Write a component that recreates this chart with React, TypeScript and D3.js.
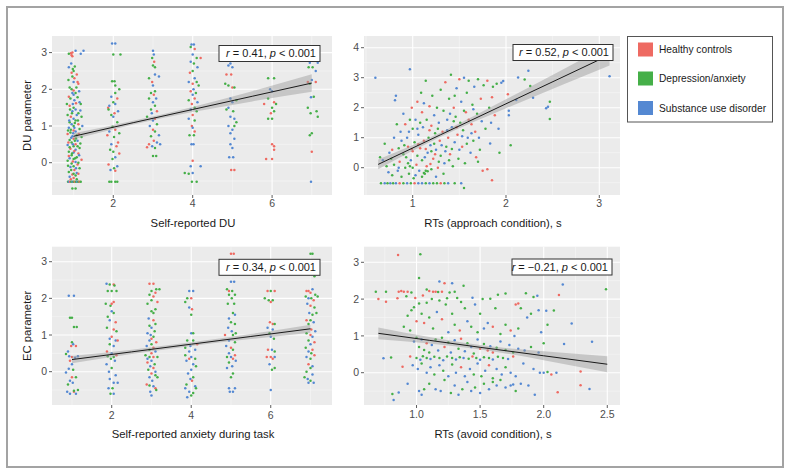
import React from "react";
import * as d3 from "d3";

// ---------- DATA ----------
// group: 0 = Healthy controls, 1 = Depression/anxiety, 2 = Substance use disorder
const groups = ["Healthy controls", "Depression/anxiety", "Substance use disorder"];
const groupColors = ["#EE6A62", "#45AF48", "#5488D2"];

type P = [number, number, number];

const duSelfReport: P[] = [
  [0.93,2.98,0],[0.97,3.0,0],[0.95,2.93,0],[0.97,2.9,0],[1.05,3.05,2],[1.25,3.05,2],[0.88,2.97,1],[1.18,2.97,2],
  [0.88,2.6,2],[0.98,2.55,1],[1.0,2.5,1],[0.95,2.45,0],[1.02,2.3,0],[0.97,2.35,1],[1.0,2.2,2],[1.1,2.2,0],
  [1.12,2.15,0],[0.9,2.05,1],[0.95,2.0,1],[1.0,1.97,0],[1.05,1.9,1],[1.0,1.85,2],[0.88,1.8,0],[0.92,1.75,1],
  [1.1,1.78,1],[1.02,1.7,2],[1.15,1.65,2],[1.18,1.6,1],[0.9,1.55,0],[1.0,1.5,1],[1.05,1.45,2],[0.97,1.4,2],
  [1.12,1.35,1],[0.85,1.3,1],[1.08,1.3,2],[0.93,1.25,0],[1.2,1.25,1],[1.0,1.2,2],[1.05,1.15,1],[0.9,1.1,1],
  [0.95,1.05,2],[1.12,1.05,0],[1.0,1.0,1],[0.88,0.95,2],[1.15,0.92,1],[1.0,0.88,0],[1.05,0.85,2],[0.92,0.82,1],
  [0.85,0.78,0],[1.08,0.75,1],[0.97,0.72,2],[1.2,0.7,1],[1.0,0.65,0],[0.9,0.62,1],[1.1,0.6,2],[0.95,0.55,1],
  [1.05,0.5,0],[0.85,0.48,2],[1.0,0.45,1],[1.15,0.4,1],[0.92,0.38,0],[1.05,0.35,2],[0.88,0.3,1],[1.0,0.28,2],
  [1.12,0.25,0],[0.95,0.2,1],[1.08,0.15,1],[0.9,0.12,2],[1.0,0.1,1],[1.2,0.08,0],[0.85,0.05,1],[1.05,0.02,2],
  [0.95,-0.02,1],[1.1,-0.05,0],[1.0,-0.1,1],[0.92,-0.12,2],[1.15,-0.15,1],[1.02,-0.2,0],[0.88,-0.25,1],[1.08,-0.28,2],
  [0.97,-0.32,0],[1.05,-0.35,1],[0.9,-0.38,2],[1.0,-0.42,0],[0.93,0.9,1],[1.03,0.6,1],[0.98,1.6,2],[1.07,2.05,1],
  [0.94,2.7,2],[1.03,2.62,1],[0.87,2.25,1],[1.08,2.4,0],[1.14,1.95,2],[0.83,1.6,1],[1.06,1.62,0],[0.96,1.35,1],
  [1.17,1.42,2],[0.89,1.15,2],[1.03,1.08,1],[1.22,1.0,2],[0.86,0.88,1],[0.99,0.8,2],[1.13,0.78,0],[0.94,0.68,2],
  [1.06,0.66,1],[0.87,0.55,0],[1.17,0.52,1],[0.98,0.5,2],[1.1,0.45,1],[0.9,0.42,1],[1.02,0.32,0],[0.96,0.25,1],
  [1.14,0.2,2],[0.88,0.18,0],[1.04,0.12,1],[0.98,0.03,0],[1.12,0.0,1],[0.86,-0.08,1],[1.06,-0.15,2],[0.94,-0.2,1],
  [1.12,-0.3,0],[1.0,-0.3,1],[0.93,-0.45,0],[1.08,-0.45,1],[1.02,0.95,2],[0.91,1.45,1],[1.11,1.15,1],[0.97,1.9,2],
  [0.86,-0.52,1],[0.88,-0.52,2],[0.91,-0.52,0],[0.94,-0.52,1],[0.97,-0.52,2],[1.0,-0.52,1],[1.03,-0.52,0],
  [1.06,-0.52,1],[1.09,-0.52,2],[1.12,-0.52,1],[1.15,-0.52,0],[1.18,-0.52,1],[0.97,-0.7,1],[1.05,-0.7,1],
  [1.97,3.25,2],[2.05,3.25,2],[2.0,2.95,1],[2.18,2.95,1],[1.97,2.22,1],[2.03,2.22,1],[2.05,2.1,1],[2.15,2.0,1],
  [1.87,1.5,0],[1.9,1.55,2],[1.95,1.8,2],[2.05,1.9,1],[2.1,1.75,0],[2.0,1.65,1],[2.05,1.6,2],[1.88,1.45,1],
  [2.12,1.4,2],[2.03,1.35,0],[1.95,1.3,1],[2.0,1.25,2],[2.1,1.1,1],[1.98,0.98,1],[2.05,0.9,0],[1.9,0.85,2],
  [2.15,0.8,1],[1.85,0.75,0],[2.02,0.7,1],[2.12,0.55,0],[1.95,0.5,2],[2.08,0.45,0],[1.92,0.35,1],[2.0,0.3,1],
  [2.15,0.25,0],[2.05,0.15,2],[1.98,0.1,1],[1.88,-0.05,0],[2.1,-0.1,2],[2.02,-0.15,1],[1.93,-0.2,2],[2.05,-0.22,0],
  [1.9,-0.52,1],[1.95,-0.52,1],[2.05,-0.52,1],[2.1,-0.52,1],
  [3.0,3.05,2],[3.02,2.95,2],[2.98,2.85,1],[3.03,2.75,0],[3.0,2.65,1],[3.05,2.6,1],[2.9,2.3,1],[3.05,2.4,2],
  [3.15,2.35,2],[2.98,2.2,0],[3.0,2.1,2],[3.05,1.95,1],[2.95,1.9,1],[3.02,1.85,0],[3.08,1.75,2],[2.9,1.75,1],
  [3.0,1.65,2],[3.05,1.55,1],[2.95,1.45,1],[3.1,1.4,0],[2.97,1.35,2],[2.85,1.25,1],[3.05,1.2,0],[3.0,1.15,2],
  [3.1,1.05,1],[2.92,1.0,2],[3.0,0.9,0],[3.05,0.85,1],[3.15,0.75,2],[2.95,0.72,1],[3.02,0.6,0],[3.1,0.55,2],
  [2.9,0.5,0],[2.98,0.45,2],[3.05,0.4,1],[2.85,0.42,0],[3.0,0.18,1],[3.08,0.18,1],[3.18,0.5,2],
  [3.97,3.22,2],[4.03,3.22,2],[3.95,3.15,1],[4.05,3.1,0],[4.0,2.95,2],[4.1,2.85,1],[4.2,2.85,0],[3.95,2.75,2],
  [4.03,2.7,1],[4.12,2.6,2],[4.0,2.5,1],[3.93,2.45,0],[4.05,2.3,2],[4.1,2.2,1],[3.9,2.2,2],[4.0,2.15,0],
  [4.15,2.1,1],[4.02,2.0,2],[3.95,1.95,0],[4.08,1.9,1],[4.0,1.85,2],[4.05,1.75,0],[3.9,1.7,1],[4.12,1.65,2],
  [3.98,1.6,0],[4.05,1.5,1],[3.95,1.45,2],[4.1,1.4,1],[4.0,1.3,0],[3.9,1.2,2],[4.05,1.15,1],[3.98,1.0,0],
  [4.0,0.95,2],[4.05,0.85,0],[3.92,0.75,1],[4.03,0.75,1],[3.97,0.5,2],[4.02,0.5,2],[4.0,0.05,0],[3.95,-0.1,2],
  [4.2,-0.1,2],[3.8,-0.28,1],[3.9,-0.3,1],[4.0,-0.28,2],[3.98,-0.52,1],[4.1,-0.52,1],
  [4.9,2.65,2],[4.95,2.7,2],[5.0,2.6,2],[4.85,2.4,0],[4.97,2.4,0],[4.82,2.15,1],[4.9,2.1,1],[5.0,2.05,0],
  [5.05,2.05,1],[4.95,1.75,2],[5.1,1.7,1],[5.0,1.65,2],[4.9,1.5,2],[4.85,1.45,1],[5.02,1.4,1],[4.95,1.25,2],
  [5.05,1.2,2],[5.1,1.1,1],[4.9,1.0,2],[5.05,1.0,1],[5.0,0.9,2],[4.95,0.8,2],[5.05,0.65,2],[4.95,0.5,2],
  [5.0,0.4,2],[4.92,0.15,2],[5.02,0.15,2],[4.97,-0.2,0],[5.05,-0.2,0],
  [5.9,2.3,1],[6.05,2.3,1],[5.95,2.0,2],[6.0,1.95,2],[5.8,1.6,0],[5.9,1.75,1],[6.05,1.65,0],[6.1,1.6,1],
  [6.0,1.5,1],[5.97,1.35,0],[6.05,1.4,1],[5.9,1.2,1],[6.0,1.2,1],[6.0,0.5,0],[6.05,0.45,0],[6.05,0.35,0],
  [5.85,0.1,0],[6.0,0.1,0],
  [6.95,2.72,2],[7.15,2.72,2],[6.92,2.6,1],[7.02,2.6,1],[7.1,2.5,2],[6.9,2.2,0],[7.0,2.25,2],[7.1,2.2,0],
  [6.95,2.15,1],[7.05,1.8,1],[6.98,1.78,2],[6.9,1.5,1],[7.12,1.4,1],[6.97,1.35,1],[7.15,1.25,1],[7.0,0.8,1],
  [6.95,0.75,1],[7.0,0.3,0],[6.98,-0.52,2]
];

const duApproachRT: P[] = [
  [0.66,-0.52,1],[0.7,-0.52,2],[0.73,-0.52,1],[0.76,-0.52,2],[0.79,-0.52,1],[0.82,-0.52,2],[0.86,-0.52,0],
  [0.9,-0.52,1],[0.94,-0.52,2],[0.98,-0.52,1],[1.02,-0.52,0],[1.06,-0.52,2],[1.1,-0.52,2],[1.14,-0.52,1],
  [1.18,-0.52,2],[1.22,-0.52,1],[1.26,-0.52,1],[1.3,-0.52,0],[1.34,-0.52,1],[1.38,-0.52,2],[1.45,-0.52,1],
  [1.52,-0.52,2],[1.55,-0.68,1],[1.85,-0.42,0],[1.8,-0.05,0],[1.93,0.5,1],[2.05,0.75,1],[1.83,0.81,2],
  [0.6,3.0,2],[0.97,3.28,2],[2.24,3.23,2],[2.13,3.01,2],[2.2,2.94,1],[1.97,2.89,2],[1.95,2.83,2],[2.29,2.33,2],
  [2.11,2.26,2],[2.26,2.72,1],[2.47,2.2,1],[2.45,2.03,2],[2.43,1.98,2],[2.47,1.62,1],[2.03,1.9,2],[2.03,1.75,2],
  [3.11,3.05,2],[2.02,2.45,0],[1.85,2.35,0],
  [0.65,0.35,1],[0.68,0.25,2],[0.7,0.8,1],[0.72,0.05,1],[0.74,-0.15,2],[0.75,0.5,2],[0.77,0.3,1],[0.78,-0.25,1],
  [0.8,1.0,2],[0.8,0.1,1],[0.82,2.4,2],[0.81,2.25,2],[0.83,1.45,1],[0.84,-0.1,2],[0.85,0.65,1],[0.86,0.2,0],
  [0.87,1.2,2],[0.88,-0.3,1],[0.9,1.8,2],[0.9,0.45,1],[0.92,1.45,0],[0.92,0.0,1],[0.94,1.0,2],[0.95,0.7,0],
  [0.96,-0.2,1],[0.97,1.6,1],[0.98,0.25,2],[0.99,2.0,0],[1.0,1.3,1],[1.0,0.55,0],[1.01,-0.35,1],
  [1.02,0.85,1],[1.03,1.6,2],[1.04,0.1,0],[1.05,2.2,0],[1.05,0.4,1],[1.06,1.1,2],[1.07,-0.1,2],[1.08,0.65,0],
  [1.09,2.5,1],[1.1,1.85,0],[1.1,0.25,1],[1.11,1.35,2],[1.12,2.15,2],[1.12,0.9,0],[1.13,-0.2,1],[1.14,2.9,1],
  [1.15,1.6,1],[1.15,0.05,0],[1.16,0.5,2],[1.17,1.0,1],[1.18,2.05,0],[1.19,0.75,2],[1.2,1.4,0],[1.2,-0.05,1],
  [1.21,2.4,1],[1.22,0.3,0],[1.23,1.75,2],[1.24,1.15,1],[1.25,0.6,2],[1.26,2.0,1],[1.27,0.0,0],[1.28,1.5,2],
  [1.29,0.9,0],[1.3,2.6,1],[1.3,0.4,1],
  [1.32,1.2,0],[1.33,1.9,1],[1.34,0.15,2],[1.35,2.85,0],[1.36,0.7,1],[1.37,1.6,2],[1.38,1.0,0],[1.39,2.3,1],
  [1.4,0.45,0],[1.41,3.1,1],[1.42,1.35,2],[1.43,0.05,1],[1.44,2.0,0],[1.45,0.85,2],[1.46,1.7,1],[1.47,2.65,2],
  [1.48,1.1,0],[1.49,0.3,1],[1.5,2.95,0],[1.51,1.5,1],[1.52,2.2,2],[1.53,0.7,0],[1.54,1.25,1],[1.55,3.0,2],
  [1.56,0.15,1],[1.57,1.85,0],[1.58,2.5,1],[1.59,1.0,2],[1.6,2.9,1],
  [1.62,0.5,2],[1.63,1.45,0],[1.64,2.1,1],[1.65,0.9,1],[1.66,2.7,2],[1.67,1.2,0],[1.68,0.35,0],[1.69,1.8,1],
  [1.7,2.95,1],[1.71,1.0,2],[1.72,0.6,1],[1.73,2.3,0],[1.74,1.55,2],[1.75,-0.1,0],[1.76,2.75,1],[1.78,1.3,1],
  [1.8,2.9,0],[1.82,2.0,1],[1.84,1.5,2],[1.86,2.7,1],[1.88,1.75,0],[1.9,2.8,1],[1.92,1.3,2],
  [0.78,0.6,0],[0.88,0.9,2],[0.93,0.35,1],[0.96,1.2,2],[1.0,0.0,1],[1.03,-0.25,2],[1.08,1.5,1],[1.13,0.35,2],
  [1.18,1.25,0],[1.23,0.8,1],[1.28,0.2,1],[1.35,0.55,2],[1.4,1.8,2],[1.45,2.4,1],[1.5,0.6,2],[1.55,1.9,1],
  [1.6,1.6,0],[1.65,1.95,2],[1.7,0.2,1],[0.85,0.0,2],[0.97,0.05,1],[1.1,-0.3,1],[1.2,0.55,1],[1.33,-0.2,1],
  [1.25,-0.3,2],[1.14,-0.1,1],[1.16,-0.12,1],[1.12,-0.18,1],
  [0.99,0.62,0],[1.06,0.78,0],[1.14,0.62,0],[1.19,0.12,0],[1.24,0.45,0],[1.31,0.75,2],[1.37,1.25,2],[1.42,0.62,1],
  [1.47,1.35,0],[1.53,1.05,2],[1.58,0.8,1],[1.63,1.15,2],[1.05,1.3,2],[0.91,0.75,1],[0.95,0.15,1],[1.27,1.3,1],
  [1.39,0.25,1],[1.44,1.55,1]
];

const ecAnxiety: P[] = [
  [0.92,2.07,2],[1.05,2.07,2],[0.95,1.47,1],[1.0,1.47,1],[1.05,1.22,1],[1.12,1.22,1],[1.0,0.8,1],[1.03,0.75,2],
  [0.98,0.7,0],[1.1,0.7,0],[0.9,0.55,2],[0.85,0.48,1],[0.93,0.42,2],[1.0,0.4,0],[1.08,0.38,2],[1.15,0.42,2],
  [0.95,0.3,0],[1.0,0.2,2],[0.92,0.08,2],[1.03,0.05,1],[0.85,-0.02,2],[1.0,-0.15,0],[1.1,-0.15,1],[0.95,-0.25,2],
  [1.02,-0.3,2],[0.9,-0.35,1],[1.15,-0.5,1],[0.88,-0.55,2],[0.95,-0.6,2],[1.05,-0.55,0],[1.1,-0.6,2],[1.05,-0.52,1],
  [1.87,2.4,2],[1.95,2.38,1],[2.05,2.38,0],[2.07,2.35,1],[1.9,2.2,1],[2.0,2.2,1],[2.12,2.2,1],[1.85,1.85,1],
  [2.05,1.9,0],[1.97,1.8,1],[2.0,1.85,0],[1.9,1.5,1],[2.05,1.6,1],[2.0,1.65,2],[1.95,1.4,2],[2.1,1.35,0],
  [1.88,1.2,1],[2.05,1.15,0],[2.12,1.1,1],[2.0,0.95,0],[1.95,0.9,2],[2.1,0.85,2],[2.15,0.85,0],[1.95,0.75,1],
  [2.05,0.7,2],[1.88,0.55,0],[2.0,0.5,2],[1.9,0.42,1],[2.05,0.4,1],[2.12,0.45,0],[1.98,0.35,1],[2.08,0.3,2],
  [1.87,0.2,2],[2.0,0.1,1],[1.93,0.0,2],[2.1,-0.1,2],[1.95,-0.2,2],[2.05,-0.3,2],[2.15,-0.3,2],[1.92,-0.45,2],
  [2.02,-0.45,1],[1.97,-0.6,1],[2.05,-0.6,2],
  [2.95,2.4,0],[3.05,2.4,0],[3.12,2.25,1],[3.2,2.25,1],[3.0,2.2,1],[3.1,2.15,0],[2.95,2.1,1],[3.05,2.05,0],
  [3.0,1.95,1],[3.15,1.9,0],[2.9,1.85,1],[3.0,1.65,1],[3.05,1.6,1],[2.93,1.45,2],[3.05,1.4,0],[3.1,1.3,1],
  [2.95,1.25,1],[3.0,1.2,2],[3.08,1.1,1],[2.9,1.05,2],[3.05,0.95,1],[3.0,0.9,0],[2.95,0.85,2],[3.12,0.8,0],
  [3.0,0.75,1],[2.88,0.7,2],[3.05,0.65,0],[2.95,0.6,1],[3.1,0.55,2],[3.0,0.5,0],[2.85,0.45,1],[2.95,0.4,1],
  [3.05,0.4,0],[3.15,0.4,1],[3.0,0.3,2],[2.9,0.25,0],[3.08,0.2,1],[2.97,0.15,2],[3.05,0.1,0],[2.92,0.05,1],
  [3.1,0.0,2],[3.0,-0.05,0],[2.95,-0.15,2],[3.1,-0.1,1],[3.15,-0.15,1],[3.02,-0.25,2],[2.88,-0.35,0],[2.95,-0.38,1],
  [3.05,-0.4,2],[3.1,-0.45,0],[2.97,-0.55,2],[3.0,-0.65,2],[3.12,-0.5,1],[2.9,0.35,2],[3.1,1.7,1],[2.98,1.0,2],
  [3.85,1.9,1],[3.9,2.0,1],[4.0,2.0,0],[4.05,2.2,2],[3.95,2.2,2],[3.95,1.75,2],[4.02,1.7,0],[4.0,1.55,1],
  [4.0,1.05,2],[4.05,1.05,1],[3.9,0.85,1],[4.05,0.85,1],[4.15,0.75,0],[3.85,0.65,1],[3.98,0.7,2],[4.1,0.6,2],
  [3.95,0.55,2],[3.85,0.45,1],[4.0,0.4,2],[4.1,0.35,1],[3.95,0.35,0],[3.88,0.3,2],[4.05,0.2,2],[4.12,0.15,1],
  [4.0,0.05,2],[3.92,-0.05,2],[4.05,-0.15,1],[3.98,-0.2,2],[4.02,-0.25,0],[3.88,-0.35,1],[4.1,-0.4,2],[3.85,-0.45,2],
  [4.12,-0.45,1],[3.95,-0.55,2],[4.05,-0.58,1],[3.9,-0.7,2],[4.0,-0.65,1],
  [5.0,3.22,0],[5.07,3.22,0],[5.0,2.45,2],[5.08,2.45,2],[4.9,2.25,1],[4.95,2.2,0],[5.03,2.2,1],[5.1,2.1,1],
  [4.95,2.1,1],[5.02,2.0,1],[4.92,1.85,1],[5.08,1.85,1],[5.05,1.6,1],[5.1,1.55,2],[4.95,1.45,2],[5.0,1.35,1],
  [5.1,1.3,1],[4.93,1.2,2],[5.02,1.1,2],[5.12,1.05,1],[4.85,1.0,0],[5.05,1.0,1],[4.95,0.85,2],[5.1,0.8,1],
  [4.88,0.7,2],[5.0,0.65,0],[5.05,0.6,1],[4.95,0.5,2],[5.1,0.45,0],[5.0,0.4,2],[4.9,0.4,1],[5.05,0.35,0],
  [5.12,0.3,2],[4.95,0.25,1],[5.03,0.15,2],[4.9,0.1,2],[5.05,-0.05,1],[5.0,-0.15,1],[4.95,-0.45,2],[5.1,-0.45,2],
  [4.97,-0.55,2],[5.05,-0.55,2],
  [5.92,2.2,0],[6.0,2.2,1],[6.1,2.2,0],[5.85,2.0,1],[5.95,1.95,1],[6.05,1.95,1],[6.0,1.9,0],[5.98,1.35,0],
  [6.05,1.3,0],[6.1,1.3,1],[5.92,1.2,2],[6.05,1.15,2],[5.97,1.05,1],[6.0,0.95,2],[6.08,0.9,1],[5.93,0.6,0],
  [6.03,0.6,2],[6.1,0.55,1],[5.9,0.4,0],[6.0,0.4,0],[6.1,0.4,2],[6.05,0.35,0],[5.97,0.2,2],[6.1,0.1,1],
  [6.03,0.05,1],[6.0,-0.5,2],
  [7.0,3.22,1],[7.05,3.22,1],[7.1,2.6,1],[6.9,2.2,0],[6.95,2.2,0],[7.0,2.15,0],[7.05,2.25,2],[7.12,2.1,1],
  [6.88,2.05,1],[6.95,2.0,2],[7.02,2.0,1],[7.08,1.95,0],[6.92,1.85,2],[7.0,1.8,0],[7.1,1.75,1],[6.97,1.6,2],
  [7.05,1.55,1],[6.9,1.4,0],[7.0,1.4,1],[7.08,1.35,2],[6.95,1.3,1],[7.02,1.15,0],[7.12,1.1,2],[6.9,1.05,1],
  [7.0,1.0,0],[7.05,0.95,2],[6.95,0.85,1],[7.1,0.8,0],[7.0,0.75,2],[6.88,0.65,1],[7.05,0.6,0],[6.95,0.55,2],
  [7.02,0.5,1],[7.1,0.45,0],[6.9,0.4,2],[7.0,0.35,1],[6.95,0.2,0],[7.05,0.15,2],[7.0,0.1,1],[6.85,-0.15,1],
  [6.93,-0.2,2],[7.0,-0.25,1],[7.05,-0.08,2],[6.95,-0.3,2],[7.08,-0.3,2],[6.9,0.0,1],[7.15,1.6,1],[7.18,2.05,1]
];

const ecAvoidRT: P[] = [
  [0.855,3.2,0],[1.03,3.22,1],[1.02,2.57,1],[1.18,2.48,2],[1.22,2.43,0],[1.28,2.43,2],[1.37,2.36,1],[2.15,2.4,2],
  [2.49,2.27,1],[2.12,2.11,0],[1.86,2.16,1],[1.95,2.09,2],[2.08,1.69,1],[2.22,1.34,2],[2.16,0.78,2],[2.38,0.84,2],
  [2.29,0.03,0],[2.29,-0.34,0],[2.36,-0.44,2],[2.11,-0.53,0],[0.68,2.2,1],[0.7,2.0,0],[0.76,2.2,1],[0.76,1.93,0],
  [0.74,0.39,2],[0.8,0.41,1],[0.81,-0.58,1],[0.82,-0.74,2],[0.86,-0.54,2],[0.89,0.16,0],
  [0.86,2.2,0],[0.88,2.22,0],[0.9,2.2,0],[0.93,2.2,0],[0.96,2.18,1],[1.1,2.22,0],[1.13,2.2,0],[1.17,2.19,1],
  [1.2,2.2,0],[1.26,2.18,1],[1.3,2.2,1],[1.08,2.26,1],[1.05,2.1,0],[1.15,2.2,0],
  [0.85,2.02,0],[0.92,2.08,1],[0.99,2.03,0],[1.12,2.0,1],[1.18,1.96,1],[1.24,2.02,1],[1.32,2.03,1],[1.35,1.92,1],
  [1.44,2.04,2],[1.52,2.0,1],[1.58,2.01,1],[1.64,2.12,1],[1.7,2.15,1],[1.78,1.85,0],[1.8,1.88,0],[1.92,2.06,1],
  [1.82,1.75,1],[1.87,1.5,2],[1.9,1.6,1],[1.96,1.7,2],[2.02,1.68,2],[2.03,1.3,1],[1.98,1.1,2],
  [0.93,1.55,1],[0.96,1.7,1],[0.98,1.78,1],[1.0,1.4,0],[1.02,1.88,1],[1.04,1.6,1],[1.06,1.35,0],[1.08,1.9,1],
  [1.1,1.5,1],[1.13,1.2,1],[1.16,1.65,2],[1.2,1.45,0],[1.23,1.85,1],[1.25,1.1,2],[1.28,1.6,1],[1.3,1.3,1],
  [1.34,1.15,0],[1.38,1.75,1],[1.4,1.4,2],[1.43,1.25,1],[1.46,1.85,2],[1.48,1.1,1],[1.5,1.6,1],[1.53,1.2,2],
  [1.56,1.35,2],[1.6,1.25,0],[1.62,1.75,1],[1.66,1.05,1],[1.7,1.3,1],[1.74,1.15,0],[1.77,1.0,2],[1.8,1.2,1],
  [0.9,1.25,1],[0.95,1.15,1],
  [0.98,0.85,2],[1.0,0.95,1],[1.02,0.7,1],[1.04,0.9,2],[1.06,0.62,1],[1.08,0.8,0],[1.1,0.55,1],[1.12,0.75,2],
  [1.15,0.9,1],[1.17,0.6,2],[1.2,0.95,1],[1.22,0.7,0],[1.25,0.82,1],[1.27,0.55,2],[1.3,0.88,2],[1.33,0.65,1],
  [1.35,0.92,0],[1.38,0.58,2],[1.4,0.8,1],[1.43,0.7,2],[1.45,0.52,1],[1.48,0.9,2],[1.5,0.65,0],[1.53,0.78,1],
  [1.56,0.6,0],[1.58,0.72,2],[1.6,0.55,0],[1.63,0.68,1],[1.66,0.85,2],[1.7,0.62,1],[1.73,0.75,2],[1.76,0.55,1],
  [1.8,0.65,2],[1.85,0.6,2],[1.9,0.7,1],[1.96,0.55,2],[2.0,0.8,1],
  [0.95,0.44,0],[1.0,0.4,1],[1.03,0.35,2],[1.05,0.45,1],[1.08,0.4,1],[1.11,0.37,2],[1.14,0.43,1],[1.18,0.4,1],
  [1.21,0.34,2],[1.24,0.44,1],[1.28,0.4,1],[1.31,0.36,2],[1.34,0.42,1],[1.37,0.4,2],[1.41,0.38,1],[1.44,0.44,0],
  [1.47,0.4,1],[1.5,0.35,2],[1.53,0.42,1],[1.57,0.4,1],[1.6,0.36,2],[1.64,0.43,1],[1.68,0.4,1],[1.72,0.37,2],
  [1.76,0.44,0],
  [0.97,0.2,2],[1.01,0.1,2],[1.04,0.25,1],[1.08,0.0,2],[1.11,0.15,2],[1.14,-0.05,1],[1.18,0.2,2],[1.21,0.05,1],
  [1.25,-0.1,2],[1.28,0.22,1],[1.31,0.0,2],[1.35,0.15,0],[1.38,-0.1,2],[1.42,0.1,2],[1.45,-0.05,1],[1.48,0.25,2],
  [1.51,-0.1,1],[1.54,0.05,2],[1.57,0.2,0],[1.6,-0.15,1],[1.63,0.1,2],[1.67,-0.05,2],[1.7,0.15,1],[1.74,0.0,2],
  [1.78,-0.1,2],[1.84,0.25,2],[1.92,0.1,2],[2.0,0.0,2],[2.03,0.02,1],[2.06,-0.05,0],[2.1,0.0,2],[1.97,0.0,2],
  [1.02,-0.5,2],[1.04,-0.6,2],[1.06,-0.45,1],[1.1,-0.3,1],[1.15,-0.45,2],[1.19,-0.5,2],[1.22,-0.2,1],[1.27,-0.55,1],
  [1.3,-0.35,2],[1.33,-0.6,2],[1.36,-0.45,1],[1.4,-0.25,2],[1.43,-0.5,2],[1.46,-0.4,1],[1.5,-0.55,2],[1.53,-0.3,1],
  [1.57,-0.45,2],[1.6,-0.25,1],[1.63,-0.35,2],[1.66,-0.2,1],[1.7,-0.4,2],[1.74,-0.35,2],[1.78,-0.5,1],[1.82,-0.3,2],
  [1.88,-0.35,2],[1.93,-0.6,2],[1.76,-0.32,2],[0.93,-0.3,2]
];

// fitted regression line with confidence band: [x, fit, halfWidth]
const fitDuSelf = [[1,0.72,0.08],[2.5,1.09,0.05],[4,1.45,0.07],[5.5,1.81,0.14],[7,2.17,0.24]];
const fitDuRT = [[0.63,0.11,0.16],[1.3,1.1,0.07],[2,2.13,0.15],[2.6,3.01,0.25],[3.11,3.76,0.35]];
const fitEcAnx = [[1,0.33,0.1],[2.5,0.54,0.06],[4,0.75,0.05],[5.5,0.96,0.07],[7,1.17,0.11]];
const fitEcRT = [[0.7,1.07,0.16],[1.1,0.88,0.09],[1.5,0.69,0.06],[2,0.46,0.12],[2.5,0.23,0.22]];

const stats = [
  { r: "0.41", p: "0.001" },
  { r: "0.52", p: "0.001" },
  { r: "0.34", p: "0.001" },
  { r: "\u22120.21", p: "0.001" },
];

const xTitles = ["Self-reported DU", "RTs (approach condition), s", "Self-reported anxiety during task", "RTs (avoid condition), s"];
const yTitles = ["DU parameter", "", "EC parameter", ""];

const ticksInt = [2, 4, 6];
const minorInt = [1, 3, 5, 7];
const ticksRTa = [1, 2, 3];
const minorRTa = [0.5, 1.5, 2.5];
const ticksRTv = [1.0, 1.5, 2.0, 2.5];
const minorRTv = [0.75, 1.25, 1.75, 2.25];
const yTicks3 = [0, 1, 2, 3];
const yMinor3 = [-0.5, 0.5, 1.5, 2.5];
const yTicks4 = [0, 1, 2, 3, 4];
const yMinor4 = [-0.5, 0.5, 1.5, 2.5, 3.5];

// ---------- LAYOUT ----------
const FONT = "'Liberation Sans', Arial, Helvetica, sans-serif";

const panels = [
  { data: duSelfReport, fit: fitDuSelf, px: [52, 332], py: [36, 195], xd: [0.456, 7.509], yd: [-0.88, 3.452],
    xt: ticksInt, xm: minorInt, yt: yTicks3, ym: yMinor3, fmt: (d: number) => String(d),
    box: [219, 45.5, 101, 16], xTitleY: 226.5, xTickY: 206.5 },
  { data: duApproachRT, fit: fitDuRT, px: [364, 620], py: [36, 195], xd: [0.478, 3.222], yd: [-0.91, 4.39],
    xt: ticksRTa, xm: minorRTa, yt: yTicks4, ym: yMinor4, fmt: (d: number) => String(d),
    box: [513, 44.5, 100, 16], xTitleY: 227, xTickY: 206.5 },
  { data: ecAnxiety, fit: fitEcAnx, px: [52, 332], py: [246.7, 405], xd: [0.498, 7.541], yd: [-0.909, 3.409],
    xt: ticksInt, xm: minorInt, yt: yTicks3, ym: yMinor3, fmt: (d: number) => String(d),
    box: [219, 259.3, 101, 16], xTitleY: 438, xTickY: 418.5 },
  { data: ecAvoidRT, fit: fitEcRT, px: [364, 620], py: [246.7, 405], xd: [0.587, 2.6], yd: [-0.878, 3.424],
    xt: ticksRTv, xm: minorRTv, yt: yTicks3, ym: yMinor3, fmt: (d: number) => d.toFixed(1),
    box: [512, 259, 100, 16], xTitleY: 437.5, xTickY: 417.5 },
];

function Panel({ cfg, idx }: { cfg: any; idx: number }) {
  const x = d3.scaleLinear().domain(cfg.xd).range(cfg.px);
  const y = d3.scaleLinear().domain(cfg.yd).range([cfg.py[1], cfg.py[0]]);
  const [x0, x1] = cfg.px;
  const [y0, y1] = cfg.py;
  const area = d3.area<number[]>()
    .x((d) => x(d[0]))
    .y0((d) => y(d[1] - d[2]))
    .y1((d) => y(d[1] + d[2]))
    .curve(d3.curveMonotoneX);
  const line = d3.line<number[]>().x((d) => x(d[0])).y((d) => y(d[1]));
  const clipId = `clip${idx}`;
  const [bx, by, bw, bh] = cfg.box;
  const st = stats[idx];
  return (
    <g>
      <defs>
        <clipPath id={clipId}>
          <rect x={x0} y={y0} width={x1 - x0} height={y1 - y0} />
        </clipPath>
      </defs>
      <rect x={x0} y={y0} width={x1 - x0} height={y1 - y0} fill="#EBEBEB" />
      {cfg.xm.map((t: number) => (
        <line key={"xm" + t} x1={x(t)} x2={x(t)} y1={y0} y2={y1} stroke="#F7F7F7" strokeWidth={0.55} />
      ))}
      {cfg.ym.map((t: number) => (
        <line key={"ym" + t} x1={x0} x2={x1} y1={y(t)} y2={y(t)} stroke="#F7F7F7" strokeWidth={0.55} />
      ))}
      {cfg.xt.map((t: number) => (
        <line key={"xt" + t} x1={x(t)} x2={x(t)} y1={y0} y2={y1} stroke="#FFFFFF" strokeWidth={1.1} />
      ))}
      {cfg.yt.map((t: number) => (
        <line key={"yt" + t} x1={x0} x2={x1} y1={y(t)} y2={y(t)} stroke="#FFFFFF" strokeWidth={1.1} />
      ))}
      <g clipPath={`url(#${clipId})`}>
        {cfg.data.map((d: P, i: number) => (
          <circle key={i} cx={x(d[0])} cy={y(d[1])} r={1.25} fill={groupColors[d[2]]} />
        ))}
        <path d={area(cfg.fit) || ""} fill="#999999" fillOpacity={0.45} />
        <path d={line(cfg.fit) || ""} fill="none" stroke="#1a1a1a" strokeWidth={1} />
      </g>
      {cfg.xt.map((t: number) => (
        <g key={"xl" + t}>
          <line x1={x(t)} x2={x(t)} y1={y1} y2={y1 + 3} stroke="#333" strokeWidth={0.8} />
          <text x={x(t)} y={cfg.xTickY} textAnchor="middle" fontSize={10.5} fill="#4D4D4D" fontFamily={FONT}>
            {cfg.fmt(t)}
          </text>
        </g>
      ))}
      {cfg.yt.map((t: number) => (
        <g key={"yl" + t}>
          <line x1={x0 - 3} x2={x0} y1={y(t)} y2={y(t)} stroke="#333" strokeWidth={0.8} />
          <text x={x0 - 5} y={y(t)} dy="0.36em" textAnchor="end" fontSize={10.5} fill="#4D4D4D" fontFamily={FONT}>
            {String(t)}
          </text>
        </g>
      ))}
      <text x={(x0 + x1) / 2 + 1} y={cfg.xTitleY} textAnchor="middle" fontSize={11.3} fill="#1a1a1a" fontFamily={FONT}>
        {xTitles[idx]}
      </text>
      {yTitles[idx] && (
        <text transform={`translate(31,${(y0 + y1) / 2}) rotate(-90)`} textAnchor="middle" fontSize={11.3} fill="#1a1a1a" fontFamily={FONT}>
          {yTitles[idx]}
        </text>
      )}
      <rect x={bx} y={by} width={bw} height={bh} fill="#FFFFFF" stroke="#333" strokeWidth={1} />
      <text x={bx + bw - 4} y={by + bh / 2} dy="0.36em" textAnchor="end" fontSize={11} fill="#1a1a1a" fontFamily={FONT}>
        <tspan fontStyle="italic">r</tspan>
        <tspan>{` = ${st.r}, `}</tspan>
        <tspan fontStyle="italic">p</tspan>
        <tspan>{` < ${st.p}`}</tspan>
      </text>
    </g>
  );
}

export default function App() {
  const legendY = [42.5, 71.5, 101];
  return (
    <div style={{ position: "absolute", left: 0, top: 0 }}>
      <svg width={791} height={475} style={{ display: "block", background: "#fff" }}>
        <rect x={0} y={0} width={791} height={475} fill="#fff" />
        <rect x={7} y={7} width={776} height={460} fill="none" stroke="#A3A3A3" strokeWidth={2} />
        {panels.map((p, i) => (
          <Panel key={i} cfg={p} idx={i} />
        ))}
        <rect x={627.5} y={36.5} width={145} height={85.5} fill="#fff" stroke="#555" strokeWidth={1} />
        {groups.map((g, i) => (
          <g key={g}>
            <rect x={638} y={legendY[i]} width={15} height={14} fill={groupColors[i]} />
            <text x={659} y={legendY[i] + 7} dy="0.36em" fontSize={10.2} fill="#1a1a1a" fontFamily={FONT}>
              {g}
            </text>
          </g>
        ))}
      </svg>
    </div>
  );
}
